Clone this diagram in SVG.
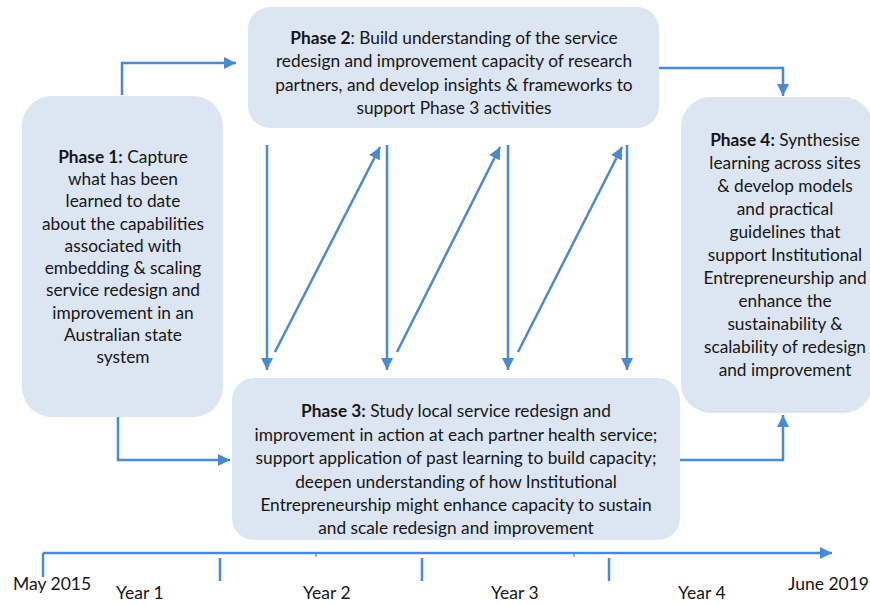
<svg xmlns="http://www.w3.org/2000/svg" width="870" height="605" viewBox="0 0 870 605">
  <defs>
    <marker id="arrow" viewBox="0 0 12 12" refX="12" refY="6" markerWidth="12" markerHeight="12" markerUnits="userSpaceOnUse" orient="auto">
      <path d="M0,0 L12,6 L0,12 Z" fill="#4a8ad3"/>
    </marker>
    <style>
      .box { fill: #dce6f2; }
      .t { font-family: Lato, "Open Sans", "Liberation Sans", sans-serif; font-size: 17.3px; fill: #161616; text-anchor: middle; }
      .b { font-weight: bold; }
      .ax { font-family: Lato, "Open Sans", "Liberation Sans", sans-serif; font-size: 17.5px; fill: #161616; }
      .ln { fill: none; stroke: #4a8ad3; stroke-width: 2.5; }
    </style>
  </defs>
  <rect width="870" height="605" fill="#ffffff"/>

  <!-- phase boxes -->
  <g id="phase1">
    <rect class="box" x="22" y="96" width="201" height="321" rx="30"/>
    <text class="t" x="123" y="163"><tspan class="b">Phase 1:</tspan> Capture</text>
    <text class="t" x="123" y="185">what has been</text>
    <text class="t" x="123" y="207">learned to date</text>
    <text class="t" x="123" y="230">about the capabilities</text>
    <text class="t" x="123" y="252">associated with</text>
    <text class="t" x="123" y="274">embedding &amp; scaling</text>
    <text class="t" x="123" y="296">service redesign and</text>
    <text class="t" x="123" y="319">improvement in an</text>
    <text class="t" x="123" y="341">Australian state</text>
    <text class="t" x="123" y="363">system</text>
  </g>

  <g id="phase2">
    <rect class="box" x="248" y="7" width="411" height="121" rx="22"/>
    <text class="t" x="454" y="44"><tspan class="b">Phase 2</tspan>: Build understanding of the service</text>
    <text class="t" x="454" y="67">redesign and improvement capacity of research</text>
    <text class="t" x="454" y="91">partners, and develop insights &amp; frameworks to</text>
    <text class="t" x="454" y="114">support Phase 3 activities</text>
  </g>

  <g id="phase3">
    <rect class="box" x="232" y="378" width="448" height="162" rx="22"/>
    <text class="t" x="456" y="417"><tspan class="b">Phase 3:</tspan> Study local service redesign and</text>
    <text class="t" x="456" y="441">improvement in action at each partner health service;</text>
    <text class="t" x="456" y="464">support application of past learning to build capacity;</text>
    <text class="t" x="456" y="488">deepen understanding of how Institutional</text>
    <text class="t" x="456" y="511">Entrepreneurship might enhance capacity to sustain</text>
    <text class="t" x="456" y="534">and scale redesign and improvement</text>
  </g>

  <g id="phase4">
    <rect class="box" x="681" y="97" width="192" height="316" rx="30"/>
    <text class="t" x="785" y="146"><tspan class="b">Phase 4:</tspan> Synthesise</text>
    <text class="t" x="785" y="169">learning across sites</text>
    <text class="t" x="785" y="192">&amp; develop models</text>
    <text class="t" x="785" y="215">and practical</text>
    <text class="t" x="785" y="238">guidelines that</text>
    <text class="t" x="785" y="261">support Institutional</text>
    <text class="t" x="785" y="284">Entrepreneurship and</text>
    <text class="t" x="785" y="307">enhance the</text>
    <text class="t" x="785" y="330">sustainability &amp;</text>
    <text class="t" x="785" y="353">scalability of redesign</text>
    <text class="t" x="785" y="376">and improvement</text>
  </g>

  <!-- connectors -->
  <g id="connectors">
    <path class="ln" d="M122,95 V63 H236" marker-end="url(#arrow)"/>
    <path class="ln" d="M659,68 H783 V96" marker-end="url(#arrow)"/>
    <path class="ln" d="M118,417 V460 H230" marker-end="url(#arrow)"/>
    <path class="ln" d="M680,460 H783 V415" marker-end="url(#arrow)"/>

    <path class="ln" d="M267,145 V370" marker-end="url(#arrow)"/>
    <path class="ln" d="M387,145 V370" marker-end="url(#arrow)"/>
    <path class="ln" d="M508,145 V370" marker-end="url(#arrow)"/>
    <path class="ln" d="M627,145 V370" marker-end="url(#arrow)"/>

    <path class="ln" d="M275,352 L380,147" marker-end="url(#arrow)"/>
    <path class="ln" d="M397,352 L500,147" marker-end="url(#arrow)"/>
    <path class="ln" d="M518,352 L622,147" marker-end="url(#arrow)"/>
  </g>

  <!-- timeline -->
  <g id="timeline">
    <path class="ln" d="M43,553 H832" marker-end="url(#arrow)"/>
    <path class="ln" d="M43,553 V577"/>
    <path class="ln" d="M220,558 V581"/>
    <path class="ln" d="M422,558 V581"/>
    <path class="ln" d="M609,558 V581"/>
    <path class="ln" d="M316,553 V557" style="stroke-width:1.2"/>
    <path class="ln" d="M574,553 V557" style="stroke-width:1.2"/>
    <text class="ax" x="13" y="590">May 2015</text>
    <text class="ax" x="116" y="599">Year 1</text>
    <text class="ax" x="303" y="599">Year 2</text>
    <text class="ax" x="491" y="599">Year 3</text>
    <text class="ax" x="678" y="599">Year 4</text>
    <text class="ax" x="788" y="590">June 2019</text>
  </g>
</svg>
